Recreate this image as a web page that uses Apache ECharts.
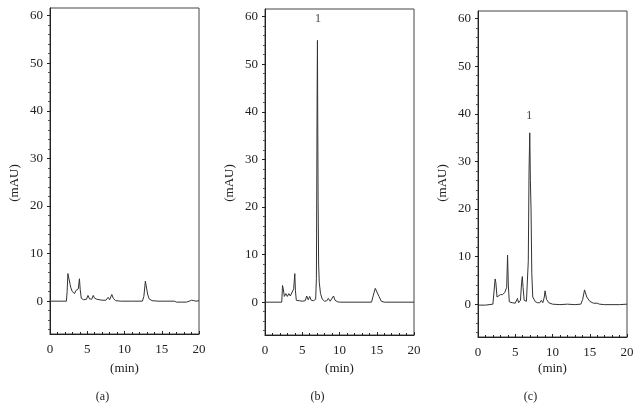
<!DOCTYPE html>
<html>
<head>
<meta charset="utf-8">
<script src="https://cdn.jsdelivr.net/npm/echarts@6/dist/echarts.min.js"></script>
<style>
  html, body { margin: 0; padding: 0; background: #fff; }
  #chart { width: 640px; height: 409px; }
</style>
</head>
<body>
<div id="chart"></div>
<script>
// chromatogram traces, [time (min), absorbance (mAU)]
var traceA = [
  [0, 0], [2.2, 0], [2.3, 2], [2.4, 5.8], [2.5, 5.6], [2.6, 5.9], [2.7, 3.5], [2.8, 2.8],
  [2.9, 3.2], [3.0, 2.0], [3.15, 2.4], [3.3, 1.6], [3.45, 2.2], [3.6, 1.9], [3.8, 2.6],
  [3.95, 4.7], [4.05, 2.5], [4.2, 0.6], [4.5, 0.3], [4.9, 0.4], [5.1, 1.2], [5.3, 0.5],
  [5.45, 0.6], [5.6, 0.4], [5.8, 1.2], [6.0, 0.6], [6.15, 0.9], [6.3, 0.4], [6.6, 0.3],
  [7.0, 0.2], [7.5, 0.2], [7.8, 0.8], [8.0, 0.3], [8.3, 1.4], [8.5, 0.6], [8.8, 0.1],
  [9.5, 0], [10.9, 0], [11.0, 0.3], [11.1, 0], [12.4, 0], [12.6, 1], [12.8, 4.2],
  [12.95, 3.8], [13.1, 1.5], [13.3, 0.5], [13.7, 0.1], [14.5, 0], [16.7, 0], [17, -0.2],
  [18.3, -0.2], [18.7, 0], [19, 0.2], [19.3, 0.1], [19.6, 0], [20, 0.1]
];
var traceB = [
  [0, 0], [2.25, 0], [2.35, 3.5], [2.45, 2.8], [2.6, 1.2], [2.8, 1.8], [3.0, 1.2], [3.2, 1.8],
  [3.4, 1.3], [3.6, 1.5], [3.85, 2.8], [4.0, 6.0], [4.08, 2.5], [4.2, 0.4], [4.6, 0.3],
  [5.0, 0.2], [5.4, 0.3], [5.6, 1.3], [5.8, 0.5], [6.0, 1.2], [6.2, 0.4], [6.5, 0.3],
  [6.8, 0.6], [6.9, 5], [6.95, 24], [7.0, 45], [7.04, 55], [7.08, 38], [7.13, 21],
  [7.2, 8], [7.28, 4.2], [7.45, 1.8], [7.7, 0.6], [8.0, 0.2], [8.3, 0.3], [8.5, 0.8],
  [8.75, 0.2], [9.0, 0.6], [9.2, 1.3], [9.4, 0.4], [9.7, 0.1], [10, 0], [14.3, 0],
  [14.55, 1.5], [14.8, 2.9], [15.0, 2.6], [15.3, 1.2], [15.6, 0.2], [16, 0], [20, 0]
];
var traceC = [
  [0, -0.2], [1, -0.2], [2.0, 0], [2.2, 0.2], [2.3, 5.3], [2.4, 4.5], [2.55, 1.5],
  [2.8, 1.6], [3.0, 2.0], [3.3, 2.0], [3.6, 2.5], [3.85, 3.5], [3.97, 10.3], [4.07, 4],
  [4.2, 0.5], [4.6, 0.3], [5.0, 0.2], [5.3, 1.2], [5.45, 0.3], [5.7, 0.8], [5.85, 4.5],
  [5.95, 5.8], [6.05, 3.5], [6.2, 0.8], [6.5, 0.6], [6.65, 0.8], [6.75, 9], [6.85, 28],
  [6.95, 36], [7.03, 26], [7.12, 20], [7.22, 6.5], [7.35, 1.5], [7.7, 0.5], [8.0, 0.3],
  [8.3, 0.3], [8.5, 0.8], [8.7, 0.3], [8.9, 1.5], [9.0, 2.8], [9.2, 1.0], [9.5, 0.3],
  [10, 0], [11, -0.1], [12, 0], [13, -0.1], [13.8, 0], [14.05, 1.0], [14.3, 3.0],
  [14.6, 1.5], [15.0, 0.6], [15.5, 0.2], [16, 0.2], [16.3, 0], [17, -0.1], [19, -0.1], [20, 0]
];
// peak "1" labels: [time, height]
var peakB = [7.1, 59.6];
var peakC = [6.87, 39.6];

var yMajor = [0, 10, 20, 30, 40, 50, 60];
var yMinor = [-6, -4, -2, 2, 4, 6, 8, 12, 14, 16, 18, 22, 24, 26, 28, 32, 34, 36, 38, 42, 44, 46, 48, 52, 54, 56, 58];
var panelNames = ["(a)", "(b)", "(c)"];

var chart = echarts.init(document.getElementById("chart"));
var font = "Liberation Serif";
var ink = "#222";

// grid boxes in px
var boxes = [
  { left: 50, top: 8, width: 149, height: 326 },
  { left: 265, top: 9, width: 149, height: 326 },
  { left: 478, top: 11, width: 149, height: 326 }
];
var traces = [traceA, traceB, traceC];

var grids = [], xAxes = [], yAxes = [], series = [], graphics = [];
boxes.forEach(function (b, i) {
  grids.push({
    left: b.left, top: b.top, width: b.width, height: b.height,
    show: true, borderColor: "#444", borderWidth: 1, backgroundColor: "transparent"
  });
  xAxes.push({
    gridIndex: i, type: "value", min: 0, max: 20, interval: 5,
    axisLine: { show: true, onZero: false, lineStyle: { color: ink, width: 1 } },
    axisTick: { show: true, inside: true, length: 3, lineStyle: { color: ink } },
    minorTick: { show: true, splitNumber: 5, length: 2, lineStyle: { color: ink } },
    axisLabel: { color: ink, fontFamily: font, fontSize: 13, margin: 9 },
    splitLine: { show: false }
  });
  yAxes.push({
    gridIndex: i, type: "value", min: -6.9, max: 61.6,
    axisLine: { show: true, onZero: false, lineStyle: { color: ink, width: 1 } },
    axisTick: { show: true, inside: false, length: 3, customValues: yMajor, lineStyle: { color: ink } },
    axisLabel: { color: ink, fontFamily: font, fontSize: 13, margin: 7, customValues: yMajor },
    splitLine: { show: false }
  });
  yAxes.push({
    gridIndex: i, type: "value", min: -6.9, max: 61.6,
    axisLine: { show: false },
    axisTick: { show: true, inside: true, length: 2, customValues: yMinor, lineStyle: { color: "#555" } },
    axisLabel: { show: false },
    splitLine: { show: false }
  });
  series.push({
    type: "line", xAxisIndex: i, yAxisIndex: i * 2,
    data: traces[i], showSymbol: false, symbol: "none",
    lineStyle: { color: "#333", width: 1 },
    animation: false
  });

  var cx = b.left + b.width / 2;
  graphics.push({
    type: "text", x: b.left - 35, y: 183, rotation: Math.PI / 2,
    style: { text: "(mAU)", fill: ink, font: "13px '" + font + "'", align: "center", verticalAlign: "middle" }
  });
  graphics.push({
    type: "text", x: cx, y: 369,
    style: { text: "(min)", fill: ink, font: "13px '" + font + "'", align: "center", verticalAlign: "middle" }
  });
  graphics.push({
    type: "text", x: cx - 22, y: 397,
    style: { text: panelNames[i], fill: ink, font: "12px '" + font + "'", align: "center", verticalAlign: "middle" }
  });
});

// peak labels
[[1, peakB], [2, peakC]].forEach(function (p) {
  series.push({
    type: "scatter", xAxisIndex: p[0], yAxisIndex: p[0] * 2,
    data: [p[1]], symbolSize: 1,
    itemStyle: { color: "transparent" },
    label: { show: true, position: "inside", formatter: "1", color: ink, fontFamily: font, fontSize: 13 },
    animation: false
  });
});

var option = {
  backgroundColor: "#fff",
  grid: grids,
  xAxis: xAxes,
  yAxis: yAxes,
  series: series,
  graphic: graphics
};
chart.setOption(option);
</script>
</body>
</html>
